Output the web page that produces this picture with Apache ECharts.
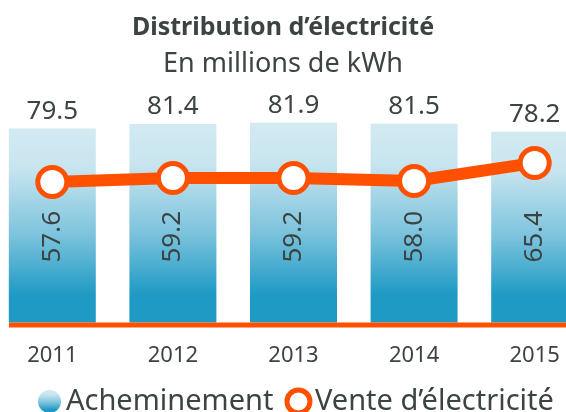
<!DOCTYPE html>
<html>
<head>
<meta charset="utf-8">
<script src="https://cdn.jsdelivr.net/npm/echarts@6/dist/echarts.min.js"></script>
<style>
  html, body { margin: 0; padding: 0; background: #fff; }
  #chart { width: 566px; height: 412px; }
</style>
</head>
<body>
<div id="chart"></div>
<script>
const years = ['2011', '2012', '2013', '2014', '2015']
const acheminement = [79.5, 81.4, 81.9, 81.5, 78.2]
const venteElectricite = [57.6, 59.2, 59.2, 58.0, 65.4]

const textColor = '#3c4443'
const orange = '#ff5000'
const font = 'Noto Sans'

const barColor = new echarts.graphic.LinearGradient(0, 0, 0, 1, [
  { offset: 0, color: '#d3eaf2' },
  { offset: 0.2, color: '#c8e5ef' },
  { offset: 0.55, color: '#7cc3dd' },
  { offset: 0.86, color: '#1e9ac4' },
  { offset: 1, color: '#1e9ac4' }
])

let myChart = echarts.init(document.getElementById('chart'))
myChart.setOption({
  animation: false,
  textStyle: { fontFamily: font },
  title: [
    {
      text: 'Distribution d\u2019électricité',
      left: 'center',
      top: 10,
      textStyle: { fontSize: 25, fontWeight: 'bold', color: textColor, fontFamily: font }
    },
    {
      text: 'En millions de kWh',
      left: 'center',
      top: 46,
      textStyle: { fontSize: 27, fontWeight: 'normal', color: textColor, fontFamily: font }
    }
  ],
  legend: {
    bottom: -9,
    left: 33,
    width: 560,
    itemWidth: 23,
    itemHeight: 23,
    itemGap: 11,
    textStyle: { fontSize: 29, color: textColor, fontFamily: font },
    data: [
      { name: 'Acheminement', icon: 'circle' },
      {
        name: 'Vente d\u2019électricité',
        icon: 'circle',
        itemStyle: { color: '#fff', borderColor: orange, borderWidth: 5 }
      }
    ]
  },
  grid: {
    left: -8,
    right: -29,
    top: 78.5,
    bottom: 89.5,
    outerBoundsMode: 'none',
    containLabel: false
  },
  xAxis: {
    type: 'category',
    data: years,
    axisLine: { show: false },
    axisTick: { show: false },
    axisLabel: {
      margin: 22,
      fontSize: 22,
      color: textColor,
      fontFamily: font
    }
  },
  yAxis: {
    type: 'value',
    min: 0,
    max: 100,
    show: false,
    splitLine: { show: false }
  },
  graphic: [
    {
      type: 'rect',
      shape: { x: 9, y: 322.5, width: 566, height: 5 },
      style: { fill: orange },
      z: 5
    }
  ],
  series: [
    {
      name: 'Acheminement',
      type: 'bar',
      barWidth: 87,
      data: acheminement,
      itemStyle: { color: barColor },
      label: {
        show: true,
        position: 'top',
        distance: 4,
        fontSize: 26,
        color: textColor,
        fontFamily: font,
        formatter: p => p.value.toFixed(1)
      }
    },
    {
      // carries the rotated labels of the sales line inside each bar
      name: 'labels',
      type: 'bar',
      barWidth: 87,
      barGap: '-100%',
      data: acheminement,
      silent: true,
      itemStyle: { color: 'rgba(0,0,0,0)' },
      label: {
        show: true,
        position: 'insideBottom',
        distance: 60,
        rotate: 90,
        align: 'left',
        verticalAlign: 'middle',
        fontSize: 26,
        color: textColor,
        fontFamily: font,
        formatter: p => venteElectricite[p.dataIndex].toFixed(1)
      }
    },
    {
      name: 'Vente d\u2019électricité',
      type: 'line',
      data: venteElectricite,
      z: 10,
      symbol: 'circle',
      symbolSize: 29,
      lineStyle: { color: orange, width: 12 },
      itemStyle: { color: '#fff', borderColor: orange, borderWidth: 5 }
    }
  ]
})
</script>
</body>
</html>
